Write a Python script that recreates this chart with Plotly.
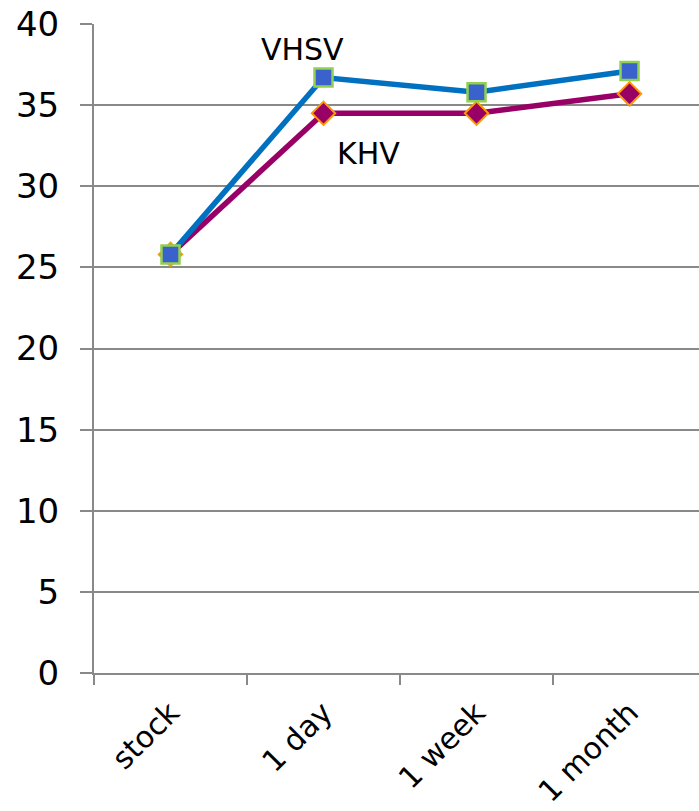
import plotly.graph_objects as go

categories = ["stock", "1 day", "1 week", "1 month"]
vhsv = [25.8, 36.7, 35.8, 37.1]
khv = [25.8, 34.5, 34.5, 35.7]
y_ticks = [0, 5, 10, 15, 20, 25, 30, 35, 40]

FONT = "DejaVu Sans, Verdana, sans-serif"
GRID = "#898989"

fig = go.Figure()
fig.add_trace(go.Scatter(
    x=categories, y=khv, mode="lines+markers", name="KHV",
    line=dict(color="#990066", width=5.5),
    marker=dict(symbol="diamond", size=18, color="#990066",
                line=dict(color="#FF9900", width=2)),
))
fig.add_trace(go.Scatter(
    x=categories, y=vhsv, mode="lines+markers", name="VHSV",
    line=dict(color="#0070C0", width=5.5),
    marker=dict(symbol="square", size=18, color="#3A62CC",
                line=dict(color="#92D050", width=2.5)),
))

fig.add_annotation(x=1, y=38.4, xref="x", yref="y", text="VHSV",
                   showarrow=False, xshift=-21,
                   font=dict(family=FONT, size=30, color="#000000"))
fig.add_annotation(x=1, y=32.0, xref="x", yref="y", text="KHV",
                   showarrow=False, xshift=45,
                   font=dict(family=FONT, size=30, color="#000000"))

fig.update_layout(
    width=699, height=811,
    margin=dict(l=94, r=0, t=24, b=138),
    paper_bgcolor="white", plot_bgcolor="white",
    showlegend=False,
    font=dict(family=FONT, color="#000000"),
)
fig.update_xaxes(
    type="category", range=[-0.5, 3.454], automargin=False,
    tickson="boundaries", ticks="outside", ticklen=10, tickwidth=2, tickcolor=GRID,
    showgrid=False, showline=True, linecolor=GRID, linewidth=2,
    tickangle=-45, tickfont=dict(family=FONT, size=30, color="#000000"),
    ticklabelstandoff=8,
)
fig.update_yaxes(
    range=[0, 40], tickvals=y_ticks, ticktext=[str(v) for v in y_ticks],
    automargin=False,
    ticks="outside", ticklen=12, tickwidth=2, tickcolor=GRID,
    showgrid=True, gridcolor=GRID, gridwidth=2,
    showline=True, linecolor=GRID, linewidth=2, zeroline=False,
    tickfont=dict(family=FONT, size=34, color="#000000"),
    ticklabelstandoff=14,
)

fig.write_html(
    "out.html",
    config={"displayModeBar": False},
    post_script="document.body.style.margin='0';document.body.style.overflow='hidden';",
)
